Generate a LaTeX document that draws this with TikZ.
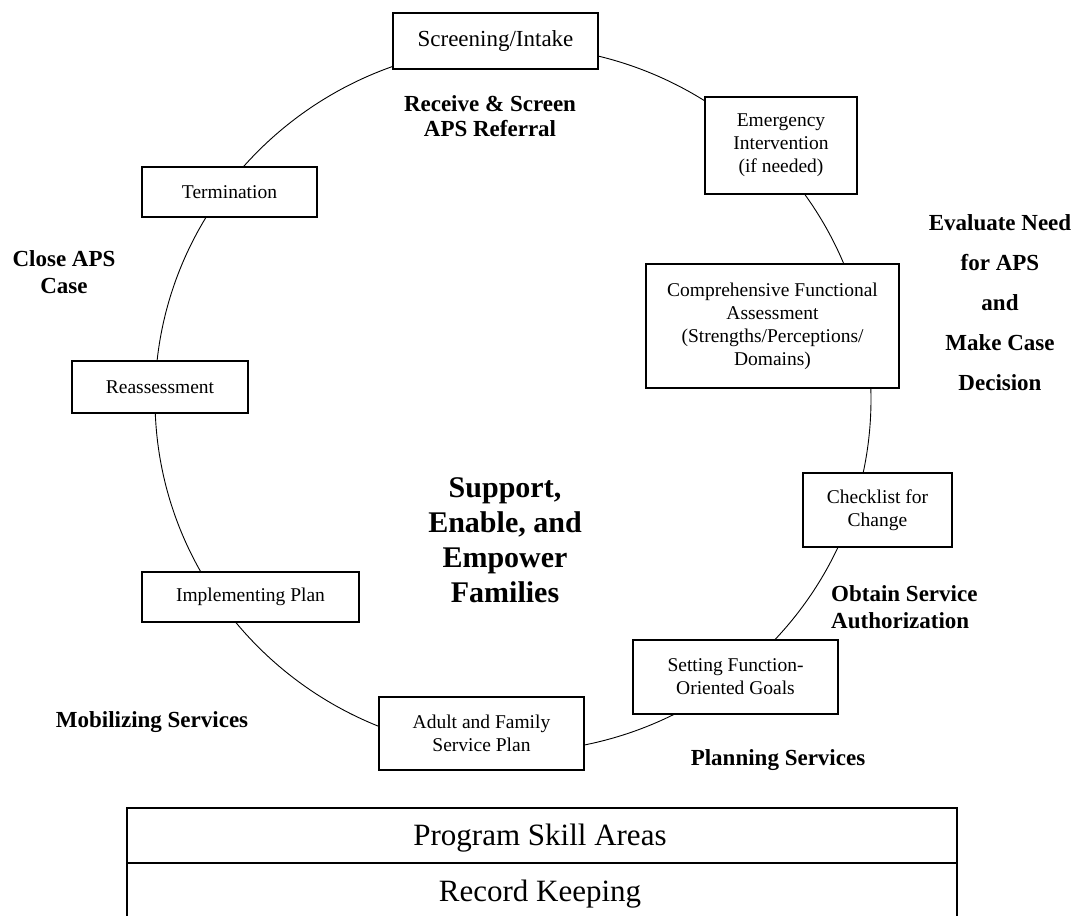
\documentclass[tikz,border=0pt]{standalone}
\usepackage{fontspec}
\setmainfont{Liberation Serif}
\begin{document}
\begin{tikzpicture}[x=1pt,y=-1pt,
  stagebox/.style={draw, line width=1.3pt, fill=white, align=center,
    font=\fontsize{19.5}{23}\selectfont, inner sep=0pt},
  phase/.style={align=center, font=\bfseries\fontsize{23}{26}\selectfont, inner sep=0pt},
  tabletext/.style={font=\fontsize{31}{34}\selectfont, inner sep=0pt}]
\useasboundingbox (0,0) rectangle (1072,916);
% cycle
\draw[line width=0.9pt] (513,399) ellipse[x radius=358, y radius=353];
% stage boxes
\node[stagebox, font=\fontsize{23}{26}\selectfont, minimum width=205, minimum height=56] (scr) at (495.5,41) {Screening/Intake};
\node[stagebox, minimum width=152, minimum height=97] (emg) at (781,145.5) {Emergency\\Intervention\\(if needed)};
\node[stagebox, minimum width=253, minimum height=124] (cfa) at (772.5,326) {Comprehensive Functional\\Assessment\\(Strengths/Perceptions/\\Domains)};
\node[stagebox, minimum width=149, minimum height=74] (chk) at (877.5,510) {Checklist for\\Change};
\node[stagebox, minimum width=205, minimum height=74] (set) at (735.5,677) {Setting Function-\\Oriented Goals};
\node[stagebox, minimum width=205, minimum height=73] (afp) at (481.5,733.5) {Adult and Family\\Service Plan};
\node[stagebox, minimum width=217, minimum height=50] (imp) at (250.5,597) {Implementing Plan};
\node[stagebox, minimum width=176, minimum height=52] (rea) at (160,387) {Reassessment};
\node[stagebox, minimum width=175, minimum height=50] (ter) at (229.5,192) {Termination};
% phase labels
\node[phase, font=\bfseries\fontsize{23}{25}\selectfont] (rcv) at (490,116) {Receive \& Screen\\APS Referral};
\node[phase, font=\bfseries\fontsize{23}{27}\selectfont] (cls) at (64,272) {Close APS\\Case};
\node[phase, font=\bfseries\fontsize{23}{40}\selectfont] (evl) at (1000,303) {Evaluate Need\\for APS\\and\\Make Case\\Decision};
\node[phase, align=left, anchor=west, font=\bfseries\fontsize{23}{27}\selectfont] (obt) at (831,607.5) {Obtain Service\\Authorization};
\node[phase] (pln) at (778,760) {Planning Services};
\node[phase] (mob) at (152,722) {Mobilizing Services};
\node[phase, font=\bfseries\fontsize{30}{35}\selectfont] (sup) at (505,540) {Support,\\Enable, and\\Empower\\Families};
% skill table
\draw[line width=1.3pt] (127,916) -- (127,808) -- (957,808) -- (957,916);
\draw[line width=1.3pt] (127,863) -- (957,863);
\node[tabletext] (psa) at (540,838) {Program Skill Areas};
\node[tabletext] (rk) at (540,894) {Record Keeping};
\end{tikzpicture}
\end{document}
